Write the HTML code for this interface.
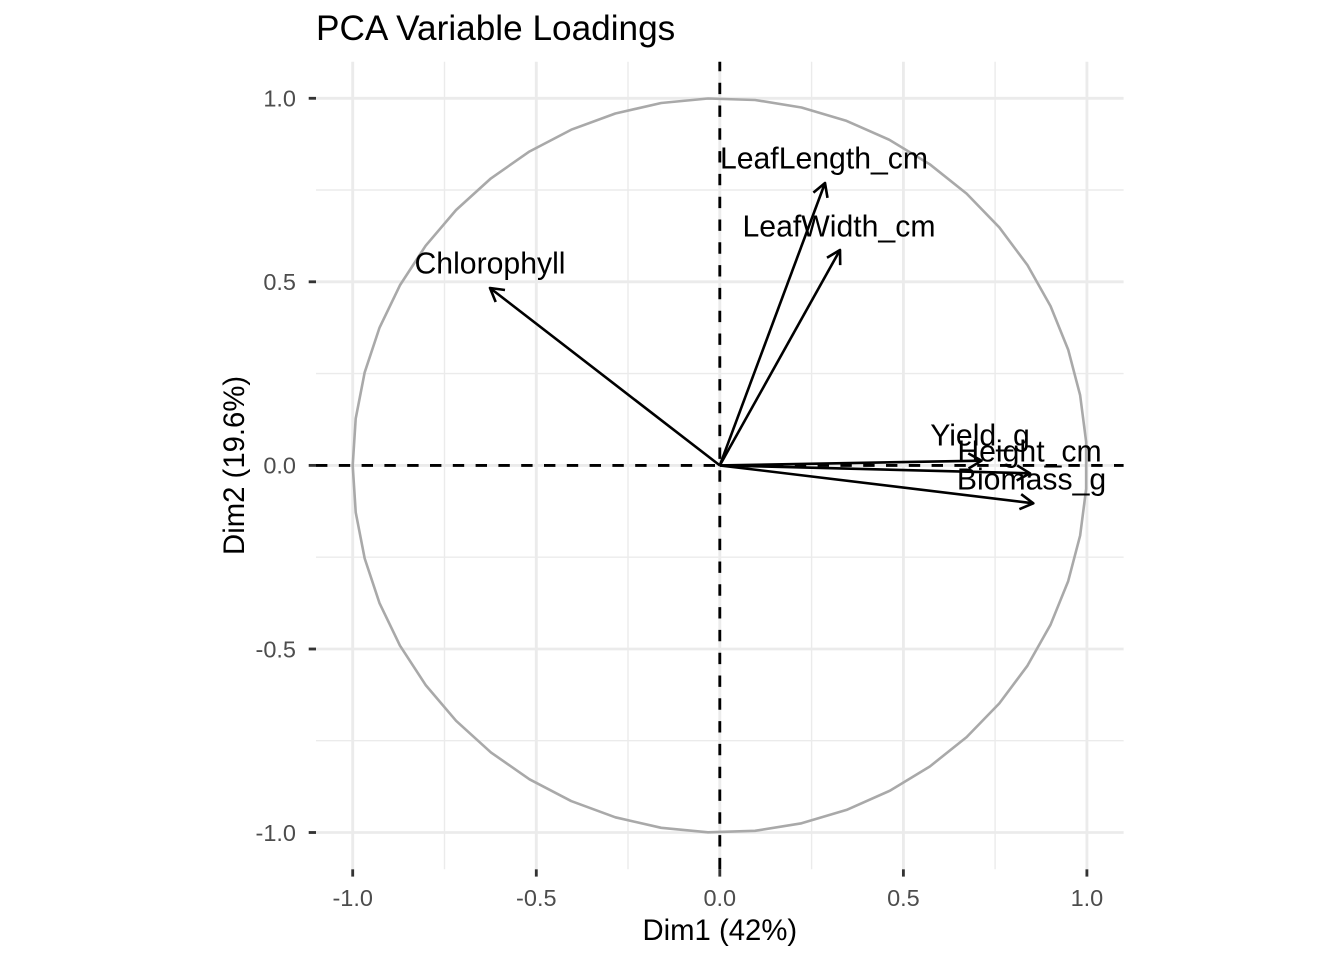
<!DOCTYPE html>
<html>
<head>
<meta charset="utf-8">
<style>
  html, body { margin: 0; padding: 0; background: #ffffff; }
  svg { display: block; }
  text { font-family: "Liberation Sans", Arial, Helvetica, sans-serif; }
</style>
</head>
<body>
<svg width="1344" height="960" viewBox="0 0 1344 960" xmlns="http://www.w3.org/2000/svg">
  <rect x="0" y="0" width="1344" height="960" fill="#ffffff"/>

  <!-- minor grid -->
  <g stroke="#ebebeb" stroke-width="1.42" fill="none">
    <line x1="444.5" y1="61.7" x2="444.5" y2="869.3"/>
    <line x1="628.0" y1="61.7" x2="628.0" y2="869.3"/>
    <line x1="811.6" y1="61.7" x2="811.6" y2="869.3"/>
    <line x1="995.1" y1="61.7" x2="995.1" y2="869.3"/>
    <line x1="316" y1="190.0" x2="1123.6" y2="190.0"/>
    <line x1="316" y1="373.6" x2="1123.6" y2="373.6"/>
    <line x1="316" y1="557.2" x2="1123.6" y2="557.2"/>
    <line x1="316" y1="740.7" x2="1123.6" y2="740.7"/>
  </g>
  <!-- major grid -->
  <g stroke="#ebebeb" stroke-width="2.84" fill="none">
    <line x1="352.7" y1="61.7" x2="352.7" y2="869.3"/>
    <line x1="536.3" y1="61.7" x2="536.3" y2="869.3"/>
    <line x1="719.8" y1="61.7" x2="719.8" y2="869.3"/>
    <line x1="903.4" y1="61.7" x2="903.4" y2="869.3"/>
    <line x1="1086.9" y1="61.7" x2="1086.9" y2="869.3"/>
    <line x1="316" y1="98.3" x2="1123.6" y2="98.3"/>
    <line x1="316" y1="281.8" x2="1123.6" y2="281.8"/>
    <line x1="316" y1="465.4" x2="1123.6" y2="465.4"/>
    <line x1="316" y1="649.0" x2="1123.6" y2="649.0"/>
    <line x1="316" y1="832.5" x2="1123.6" y2="832.5"/>
  </g>

  <!-- correlation circle -->
  <polygon transform="translate(719.8,465.4) scale(367.1)" fill="none" stroke="#a9a9a9" stroke-width="2.6" vector-effect="non-scaling-stroke" stroke-linejoin="round"
    points="-1,0 -0.99179,0.12788 -0.96730,0.25366 -0.92691,0.37526 -0.87132,0.49072 -0.80142,0.59813 -0.71835,0.69569 -0.62349,0.78183 -0.51839,0.85515 -0.40480,0.91442 -0.28454,0.95867 -0.15960,0.98719 -0.03206,0.99949 0.09602,0.99538 0.22252,0.97493 0.34537,0.93847 0.46254,0.88660 0.57212,0.82017 0.67231,0.74028 0.76146,0.64824 0.83809,0.54553 0.90097,0.43388 0.94908,0.31511 0.98156,0.19115 0.99795,0.06406 0.99795,-0.06406 0.98156,-0.19115 0.94908,-0.31511 0.90097,-0.43388 0.83809,-0.54553 0.76146,-0.64824 0.67231,-0.74028 0.57212,-0.82017 0.46254,-0.88660 0.34537,-0.93847 0.22252,-0.97493 0.09602,-0.99538 -0.03206,-0.99949 -0.15960,-0.98719 -0.28454,-0.95867 -0.40480,-0.91442 -0.51839,-0.85515 -0.62349,-0.78183 -0.71835,-0.69569 -0.80142,-0.59813 -0.87132,-0.49072 -0.92691,-0.37526 -0.96730,-0.25366 -0.99179,-0.12788"/>

  <!-- dashed reference lines -->
  <g stroke="#000000" stroke-width="2.84" stroke-dasharray="11.4 11.4" fill="none">
    <line x1="316" y1="465.4" x2="1123.6" y2="465.4"/>
    <line x1="719.8" y1="869.3" x2="719.8" y2="61.7"/>
  </g>

  <!-- arrows -->
  <g stroke="#000000" stroke-width="2.6" fill="none" stroke-linecap="butt" stroke-linejoin="round">
    <line x1="719.8" y1="465.4" x2="490" y2="288"/>
    <polyline points="495.7,302.0 490,288 505.0,290.0"/>

    <line x1="719.8" y1="465.4" x2="825" y2="183"/>
    <polyline points="813.4,192.6 825,183 827.5,197.9"/>

    <line x1="719.8" y1="465.4" x2="840" y2="250"/>
    <polyline points="827.0,257.7 840,250 840.2,265.1"/>

    <line x1="719.8" y1="465.4" x2="981.5" y2="460.7"/>
    <polyline points="968.3,453.4 981.5,460.7 968.6,468.5"/>

    <line x1="719.8" y1="465.4" x2="1030" y2="473.3"/>
    <polyline points="1017.1,465.4 1030,473.3 1016.7,480.5"/>

    <line x1="719.8" y1="465.4" x2="1033.3" y2="503.3"/>
    <polyline points="1021.2,494.2 1033.3,503.3 1019.4,509.2"/>
  </g>

  <!-- variable labels -->
  <g font-size="30.2" fill="#000000" text-anchor="middle">
    <text x="490" y="273.3">Chlorophyll</text>
    <text x="824" y="168.3">LeafLength_cm</text>
    <text x="839" y="236.7">LeafWidth_cm</text>
    <text x="980" y="445.3">Yield_g</text>
    <text x="1029.5" y="461.5">Height_cm</text>
    <text x="1031.5" y="489.3">Biomass_g</text>
  </g>

  <!-- ticks -->
  <g stroke="#333333" stroke-width="2.84" fill="none">
    <line x1="352.7" y1="869.3" x2="352.7" y2="876.6"/>
    <line x1="536.3" y1="869.3" x2="536.3" y2="876.6"/>
    <line x1="719.8" y1="869.3" x2="719.8" y2="876.6"/>
    <line x1="903.4" y1="869.3" x2="903.4" y2="876.6"/>
    <line x1="1086.9" y1="869.3" x2="1086.9" y2="876.6"/>
    <line x1="308.7" y1="98.3" x2="316" y2="98.3"/>
    <line x1="308.7" y1="281.8" x2="316" y2="281.8"/>
    <line x1="308.7" y1="465.4" x2="316" y2="465.4"/>
    <line x1="308.7" y1="649.0" x2="316" y2="649.0"/>
    <line x1="308.7" y1="832.5" x2="316" y2="832.5"/>
  </g>

  <!-- tick labels -->
  <g font-size="23.5" fill="#4d4d4d" text-anchor="middle">
    <text x="352.7" y="906">-1.0</text>
    <text x="536.3" y="906">-0.5</text>
    <text x="719.8" y="906">0.0</text>
    <text x="903.4" y="906">0.5</text>
    <text x="1086.9" y="906">1.0</text>
  </g>
  <g font-size="23.5" fill="#4d4d4d" text-anchor="end">
    <text x="296" y="106.6">1.0</text>
    <text x="296" y="290.1">0.5</text>
    <text x="296" y="473.7">0.0</text>
    <text x="296" y="657.3">-0.5</text>
    <text x="296" y="840.8">-1.0</text>
  </g>

  <!-- axis titles -->
  <text x="719.8" y="940" font-size="29.3" fill="#000000" text-anchor="middle">Dim1 (42%)</text>
  <text transform="translate(244,465.4) rotate(-90)" font-size="29.3" fill="#000000" text-anchor="middle">Dim2 (19.6%)</text>

  <!-- plot title -->
  <text x="316" y="40" font-size="35.2" fill="#000000">PCA Variable Loadings</text>
</svg>
</body>
</html>
